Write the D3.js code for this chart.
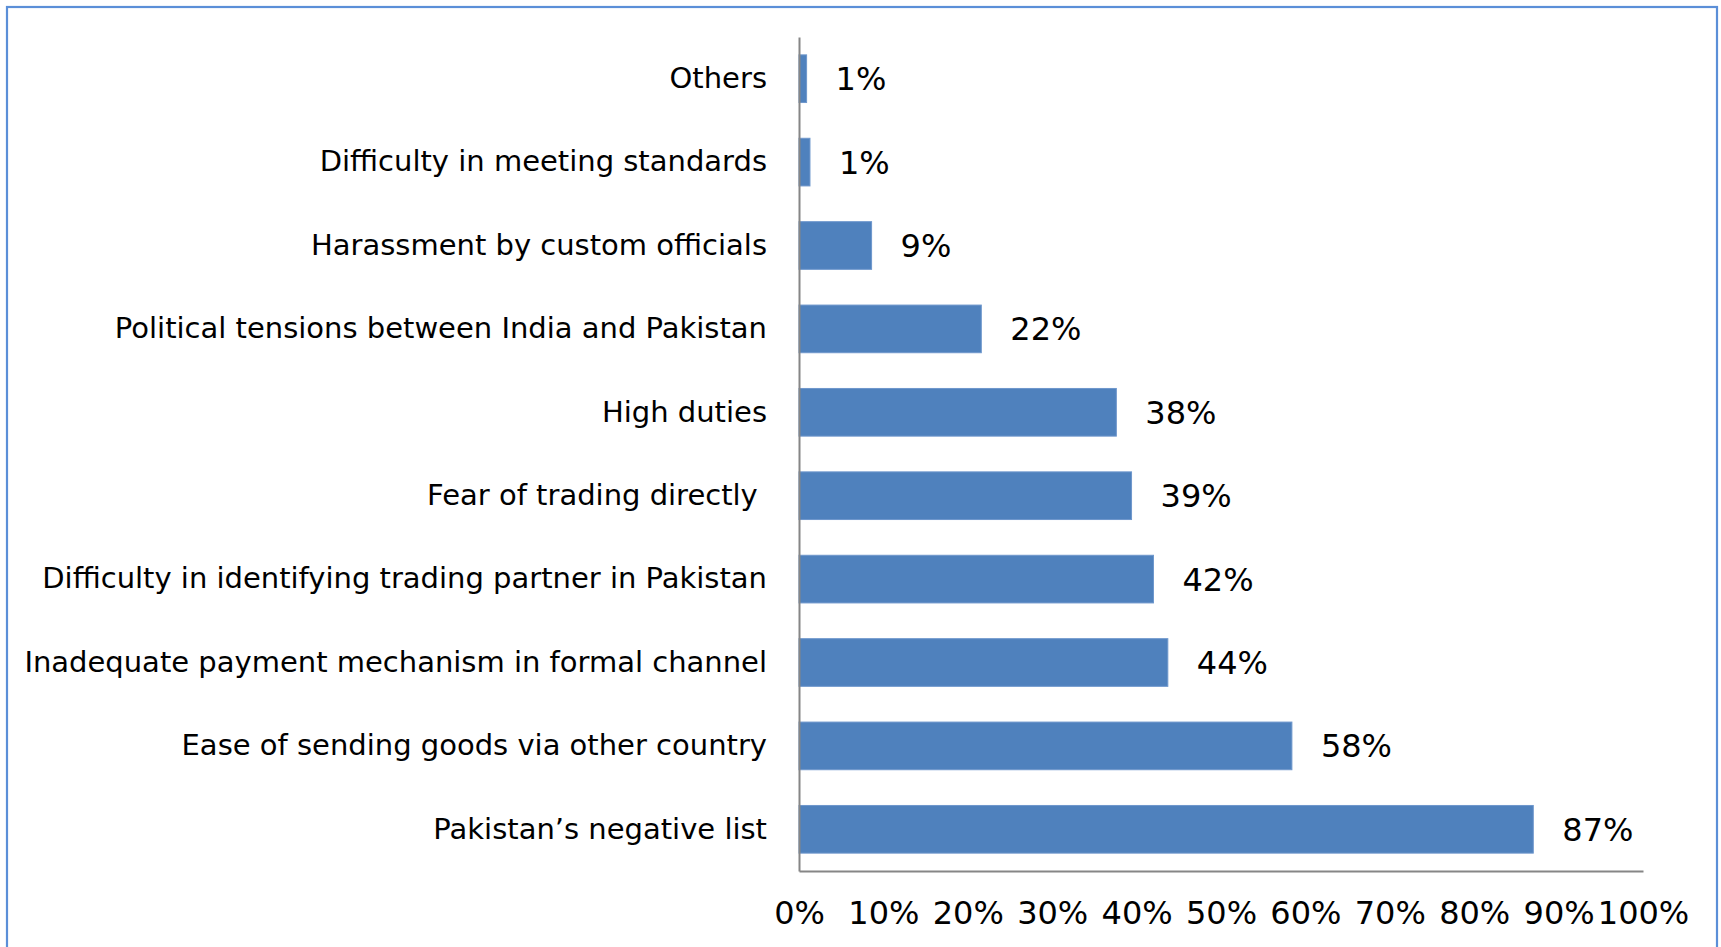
<!DOCTYPE html>
<html>
<head>
<meta charset="utf-8">
<script src="https://cdn.jsdelivr.net/npm/d3@7"></script>
<style>
  html, body { margin: 0; padding: 0; background: #ffffff; }
  svg { display: block; }
  text { font-family: "DejaVu Sans", "Noto Sans", sans-serif; fill: #000000; }
</style>
</head>
<body>
<svg id="chart" width="1721" height="947"></svg>
<script>
// ---- data ----
const categories = [
  "Others",
  "Difficulty in meeting standards",
  "Harassment by custom officials",
  "Political tensions between India and Pakistan",
  "High duties",
  "Fear of trading directly ",
  "Difficulty in identifying trading partner in Pakistan",
  "Inadequate payment mechanism in formal channel",
  "Ease of sending goods via other country",
  "Pakistan\u2019s negative list"
];
const values = [0.009, 0.013, 0.086, 0.216, 0.376, 0.394, 0.420, 0.437, 0.584, 0.870];
const tickValues = [0, 0.1, 0.2, 0.3, 0.4, 0.5, 0.6, 0.7, 0.8, 0.9, 1.0];
const tickLabels = ["0%", "10%", "20%", "30%", "40%", "50%", "60%", "70%", "80%", "90%", "100%"];

// ---- layout ----
const plot = { left: 799, right: 1643, top: 37, bottom: 871 };
const svg = d3.select("#chart");

// outer frame
svg.append("rect")
  .attr("x", 7).attr("y", 7)
  .attr("width", 1710).attr("height", 980)
  .attr("fill", "none")
  .attr("stroke", "#5b8fd8")
  .attr("stroke-width", 2.2);

const x = d3.scaleLinear().domain([0, 1]).range([plot.left, plot.right]);
const y = d3.scaleBand().domain(categories).range([plot.top, plot.bottom])
  .paddingInner(0.75 / 1.75).paddingOuter(0.75 / 3.5);

const data = categories.map((c, i) => ({ cat: c, val: values[i] }));

// bars
svg.append("g").selectAll("rect")
  .data(data).join("rect")
  .attr("x", x(0))
  .attr("y", d => y(d.cat))
  .attr("width", d => x(d.val) - x(0))
  .attr("height", y.bandwidth())
  .attr("fill", "#4f81bd")
  .attr("stroke", "#6e97cc")
  .attr("stroke-width", 1);

// value labels
const fmt = d3.format(".0%");
svg.append("g").selectAll("text")
  .data(data).join("text")
  .attr("x", d => x(d.val) + 29)
  .attr("y", d => y(d.cat) + y.bandwidth() / 2)
  .attr("dy", "0.36em")
  .style("font-size", "32px")
  .text(d => fmt(d.val));

// left axis (categories)
const yAxis = svg.append("g")
  .attr("transform", `translate(${plot.left},0)`)
  .call(d3.axisLeft(y).tickSize(0).tickSizeOuter(0).tickPadding(32));
yAxis.select(".domain").attr("stroke", "#868686").attr("stroke-width", 2);
yAxis.selectAll("text")
  .style("font-size", "29px")
  .style("white-space", "pre")
  .attr("fill", "#000");

// bottom axis (percent)
const xAxis = svg.append("g")
  .attr("transform", `translate(0,${plot.bottom})`)
  .call(d3.axisBottom(x).tickValues(tickValues)
    .tickFormat((d, i) => tickLabels[i]).tickSize(0).tickSizeOuter(0).tickPadding(30));
xAxis.select(".domain").attr("stroke", "#868686").attr("stroke-width", 2);
xAxis.selectAll("text")
  .style("font-size", "32px")
  .attr("fill", "#000");
</script>
</body>
</html>
